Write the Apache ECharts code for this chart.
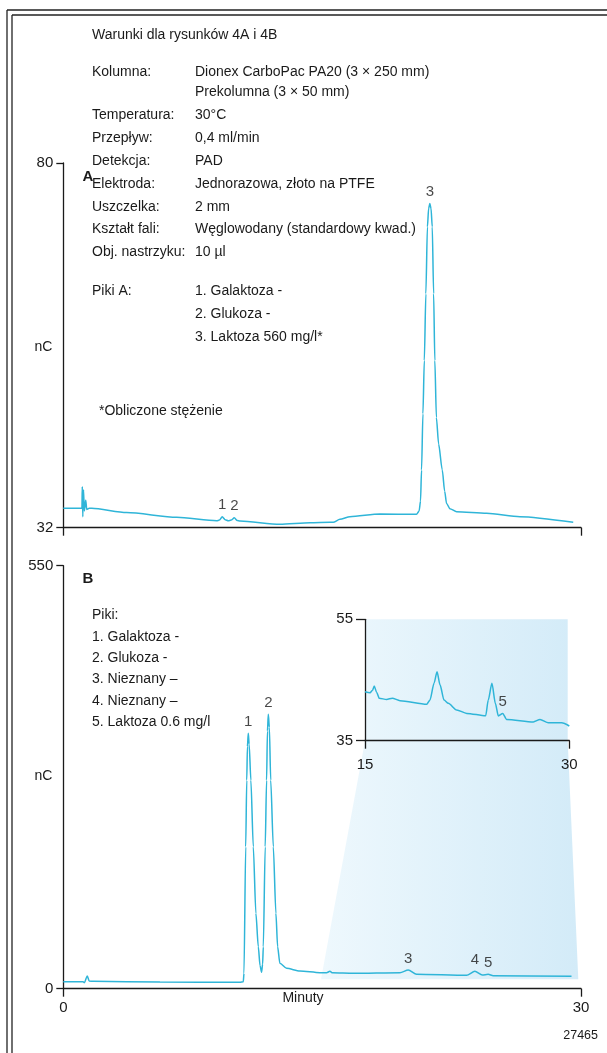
<!DOCTYPE html>
<html>
<head>
<meta charset="utf-8">
<script src="https://cdn.jsdelivr.net/npm/echarts@6/dist/echarts.min.js"></script>
<style>
  html, body { margin: 0; padding: 0; background: #fff; }
  #chart { width: 607px; height: 1053px; }
</style>
</head>
<body>
<div id="chart"></div>
<script>
// chromatogram A (minutes / nC)
var timeA = [0, 1.08, 1.10, 1.13, 1.17, 1.22, 1.30, 1.36, 1.50, 1.65, 3.67, 6.57, 8.89, 9.05, 9.21, 9.38, 9.56, 9.73, 9.91, 10.08, 10.24, 12.55, 14.3, 15.45, 15.64, 16.03, 16.61, 18.35, 20.47, 20.62, 20.70, 20.76, 20.84, 20.92, 21.01, 21.10, 21.17, 21.24, 21.31, 21.38, 21.46, 21.53, 21.62, 21.75, 21.96, 22.10, 22.21, 22.40, 22.79, 24.53, 26.46, 29.55];
var signalA = [34.55, 34.55, 37.4, 33.45, 37.0, 34.2, 35.6, 34.4, 34.55, 34.55, 34.0, 33.37, 32.92, 33.0, 33.45, 33.05, 32.92, 33.0, 33.3, 32.95, 32.88, 32.45, 32.66, 32.71, 32.71, 33.1, 33.45, 33.8, 33.76, 34.2, 35.5, 39.6, 47.0, 54.0, 62.8, 71.6, 74.0, 74.66, 74.0, 71.6, 62.8, 54.0, 46.5, 43.0, 39.6, 36.8, 35.2, 34.5, 34.1, 33.9, 33.45, 32.71];
var peakNamesA = ['1', '2', '3'];
var peakTimesA = [9.21, 9.91, 21.24];
var peakValsA = [33.45, 33.3, 74.66];

// chromatogram B
var timeB = [0, 1.15, 1.22, 1.39, 1.50, 1.74, 5.6, 10.24, 10.43, 10.47, 10.57, 10.63, 10.67, 10.72, 10.77, 10.87, 11.01, 11.16, 11.30, 11.40, 11.49, 11.55, 11.59, 11.70, 11.78, 11.83, 11.88, 11.94, 12.02, 12.17, 12.32, 12.42, 12.55, 12.94, 13.71, 14.87, 15.26, 15.45, 15.60, 16.8, 19.51, 19.99, 20.47, 23.37, 23.85, 24.28, 24.62, 24.91, 29.45];
var signalB = [9.1, 9.1, 7.8, 16.5, 10.0, 9.6, 8.7, 8.3, 9.0, 20.0, 184.6, 271, 315, 332, 318, 271, 184.6, 98, 54.6, 30, 21.3, 32, 54.6, 184.6, 271, 335, 356.8, 340, 271, 184.6, 98, 54.6, 33, 26.5, 23, 20.8, 20.8, 22.6, 20.6, 20.0, 20.8, 24.3, 18.7, 17.4, 22.6, 17.8, 18.7, 16.9, 16.1];
var peakNamesB = ['1', '2', '3', '4', '5'];
var peakTimesB = [10.72, 11.88, 19.99, 23.85, 24.62];
var peakValsB = [332, 356.8, 24.3, 22.6, 18.7];

// inset of B, 15-30 min
var timeInset = [15.0, 15.37, 15.55, 15.68, 15.85, 16.05, 16.59, 17.0, 17.57, 19.53, 19.77, 20.07, 20.29, 20.51, 20.8, 21.12, 21.73, 22.47, 23.86, 24.05, 24.32, 24.57, 24.79, 25.11, 25.4, 27.36, 27.85, 28.46, 29.44, 30.0];
var signalInset = [43.07, 42.9, 43.3, 44.0, 43.0, 41.98, 41.8, 42.0, 41.6, 41.0, 41.7, 44.46, 46.37, 44.2, 41.7, 41.16, 40.06, 39.5, 39.1, 41.7, 44.46, 41.16, 39.07, 39.5, 38.5, 38.1, 38.5, 37.95, 37.95, 37.42];
var peakNamesInset = ['5'];
var peakTimesInset = [25.11];
var peakValsInset = [39.5];

// tick labels
var xTicksMain = [0, 30];
var yTicksA = [32, 80];
var yTicksB = [0, 550];
var xTicksInset = [15, 30];
var yTicksInset = [35, 55];

var conditions = [
    ['Kolumna:', 'Dionex CarboPac PA20 (3 × 250 mm)'],
    ['', 'Prekolumna (3 × 50 mm)'],
    ['Temperatura:', '30°C'],
    ['Przepływ:', '0,4 ml/min'],
    ['Detekcja:', 'PAD'],
    ['Elektroda:', 'Jednorazowa, złoto na PTFE'],
    ['Uszczelka:', '2 mm'],
    ['Kształt fali:', 'Węglowodany (standardowy kwad.)'],
    ['Obj. nastrzyku:', '10 µl'],
    ['Piki A:', '1. Galaktoza -'],
    ['', '2. Glukoza -'],
    ['', '3. Laktoza 560 mg/l*']
];
var conditionRows = [72, 92, 115, 138, 161.5, 184, 207, 229.5, 252, 291, 314, 337];
var peaksBText = ['Piki:', '1. Galaktoza -', '2. Glukoza -', '3. Nieznany –', '4. Nieznany –', '5. Laktoza 0.6 mg/l'];
var peaksBRows = [615, 637.3, 658.3, 679.3, 700.7, 722.3];

var FONT = '"Liberation Sans", Arial, sans-serif';
var INK = '#1a1a1a';
var TRACE = '#2fb5d8';

function pairs(xs, ys) {
    return xs.map(function (x, i) { return [x, ys[i]]; });
}
function labelPoints(names, xs, ys) {
    return names.map(function (n, i) { return [xs[i], ys[i], n]; });
}
function text(str, x, y, opts) {
    opts = opts || {};
    return {
        type: 'text',
        silent: true,
        style: {
            text: str, x: x, y: y,
            fill: INK,
            font: (opts.weight || 'normal') + ' ' + (opts.size || 14) + 'px ' + FONT,
            align: opts.align || 'left', verticalAlign: 'middle',
            textAlign: opts.align || 'left', textVerticalAlign: 'middle'
        }
    };
}
function xAxis(grid, min, max, ticks, showLabels, margin) {
    return {
        gridIndex: grid, type: 'value', min: min, max: max,
        axisLine: { onZero: false, lineStyle: { color: INK, width: 1.3 } },
        axisTick: { customValues: ticks, length: 8, lineStyle: { color: INK, width: 1.3 } },
        axisLabel: { show: showLabels, customValues: ticks, margin: margin, color: INK, fontSize: 15, fontFamily: FONT },
        splitLine: { show: false }
    };
}
function yAxis(grid, min, max, ticks, tickLen, margin) {
    return {
        gridIndex: grid, type: 'value', min: min, max: max,
        axisLine: { show: true, onZero: false, lineStyle: { color: INK, width: 1.3 } },
        axisTick: { show: true, customValues: ticks, length: tickLen, lineStyle: { color: INK, width: 1.3 } },
        axisLabel: { customValues: ticks, margin: margin, color: INK, fontSize: 15, fontFamily: FONT },
        splitLine: { show: false }
    };
}
function trace(idx, data) {
    return {
        type: 'line', xAxisIndex: idx, yAxisIndex: idx,
        data: data, symbol: 'none', smooth: 0.25, smoothMonotone: 'x',
        lineStyle: { color: TRACE, width: 1.5 }, z: 3
    };
}
function peakLabels(idx, data) {
    return {
        type: 'scatter', xAxisIndex: idx, yAxisIndex: idx,
        data: data, symbolSize: 0, silent: true,
        label: {
            show: true, position: 'top', distance: 4,
            formatter: function (p) { return p.value[2]; },
            color: INK, fontSize: 15, fontFamily: FONT
        }
    };
}

var graphics = [
    // shaded zoom region behind the inset
    {
        type: 'polygon', z: -10, silent: true,
        shape: { points: [[365, 619.3], [567.7, 619.3], [567.7, 741], [578.3, 979.3], [321, 979.3], [365, 741]] },
        style: {
            fill: new echarts.graphic.LinearGradient(0, 0, 1, 0, [
                { offset: 0, color: '#eef8fd' },
                { offset: 1, color: '#d3ebf8' }
            ])
        }
    },
    // double frame
    { type: 'line', shape: { x1: 7, y1: 10, x2: 7, y2: 1053 }, style: { stroke: '#222', lineWidth: 1.3 } },
    { type: 'line', shape: { x1: 12, y1: 15, x2: 12, y2: 1053 }, style: { stroke: '#222', lineWidth: 1.3 } },
    { type: 'line', shape: { x1: 7, y1: 10, x2: 607, y2: 10 }, style: { stroke: '#222', lineWidth: 1.3 } },
    { type: 'line', shape: { x1: 12, y1: 15, x2: 607, y2: 15 }, style: { stroke: '#222', lineWidth: 1.3 } },
    text('Warunki dla rysunków 4A i 4B', 92, 35),
    text('*Obliczone stężenie', 99, 411),
    text('A', 88, 176.7, { weight: 'bold', align: 'center', size: 15 }),
    text('B', 88, 579.3, { weight: 'bold', align: 'center', size: 15 }),
    text('nC', 43.5, 347, { align: 'center' }),
    text('nC', 43.5, 776, { align: 'center' }),
    text('Minuty', 303, 998, { align: 'center' }),
    text('27465', 598, 1036, { align: 'right', size: 12.5 })
];
conditions.forEach(function (row, i) {
    if (row[0]) graphics.push(text(row[0], 92, conditionRows[i]));
    graphics.push(text(row[1], 195, conditionRows[i]));
});
peaksBText.forEach(function (s, i) {
    graphics.push(text(s, 92, peaksBRows[i]));
});

var chart = echarts.init(document.getElementById('chart'));
chart.setOption({
    animation: false,
    backgroundColor: '#ffffff',
    grid: [
        { left: 63.3, top: 163, width: 517.7, height: 364.7 },
        { left: 63.3, top: 565.7, width: 517.7, height: 423 },
        { left: 365, top: 619.3, width: 204.3, height: 121.4 }
    ],
    xAxis: [
        xAxis(0, 0, 30, xTicksMain, false, 12),
        xAxis(1, 0, 30, xTicksMain, true, 12),
        xAxis(2, 15, 30, xTicksInset, true, 17)
    ],
    yAxis: [
        yAxis(0, 32, 80, yTicksA, 7, 10),
        yAxis(1, 0, 550, yTicksB, 7, 10),
        yAxis(2, 35, 55, yTicksInset, 9, 12)
    ],
    series: [
        trace(0, pairs(timeA, signalA)),
        trace(1, pairs(timeB, signalB)),
        trace(2, pairs(timeInset, signalInset)),
        peakLabels(0, labelPoints(peakNamesA, peakTimesA, peakValsA)),
        peakLabels(1, labelPoints(peakNamesB, peakTimesB, peakValsB)),
        peakLabels(2, labelPoints(peakNamesInset, peakTimesInset, peakValsInset))
    ],
    graphic: graphics
});
</script>
</body>
</html>
